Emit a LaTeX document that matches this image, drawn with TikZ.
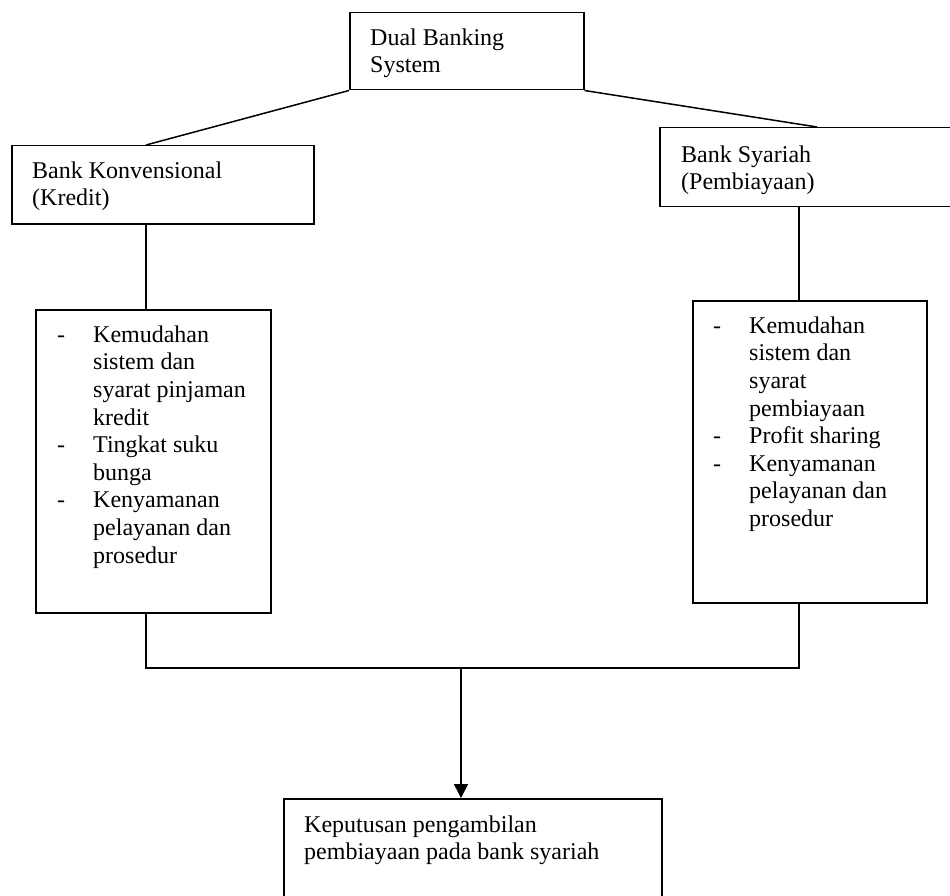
\documentclass[tikz,border=0pt]{standalone}
\usepackage{fontspec}
\setmainfont{Liberation Serif}
\usetikzlibrary{arrows.meta}
\tikzset{
  box/.style={draw, line width=1.5pt, rectangle, inner sep=0pt, anchor=north west},
  txt/.style={anchor=north west, inner sep=0pt, align=left, text width=#1,
    font=\fontsize{24}{27.6}\selectfont},
  txt/.default=400pt,
  conn/.style={line width=1.5pt},
}
\newcommand{\itm}{\makebox[36pt][l]{-}}
\newcommand{\ind}{\hspace*{36pt}}
\newcommand{\myspc}{\spaceskip=6pt\xspaceskip=6pt\relax\strut}
\begin{document}
\begin{tikzpicture}[x=1pt,y=-1pt]
\useasboundingbox (0,0) rectangle (950,896);
\clip (0,0) rectangle (950,896);
% boxes
\node[box, minimum width=234pt, minimum height=77pt] (top) at (349,12) {};
\node[box, minimum width=302pt, minimum height=78pt] (kon) at (11,145) {};
\node[box, minimum width=320pt, minimum height=79pt] (sya) at (659,127) {};
\node[box, minimum width=235pt, minimum height=303pt] (lkon) at (35,309) {};
\node[box, minimum width=234pt, minimum height=302pt] (lsya) at (692,300) {};
\node[box, minimum width=378pt, minimum height=120pt] (kep) at (283,798) {};
% texts
\node[txt] (ttop) at (370,{45-19.32}) {\myspc Dual Banking\\System};
\node[txt] (tkon) at (32,{178-19.32}) {\myspc Bank Konvensional\\(Kredit)};
\node[txt] (tsya) at (681,{162-19.32}) {\myspc Bank Syariah\\(Pembiayaan)};
\node[txt] (tlkon) at (57,{342-19.32}) {\myspc\itm Kemudahan\\\ind sistem dan\\\ind syarat pinjaman\\\ind kredit\\\itm Tingkat suku\\\ind bunga\\\itm Kenyamanan\\\ind pelayanan dan\\\ind prosedur};
\node[txt] (tlsya) at (713,{333-19.32}) {\myspc\itm Kemudahan\\\ind sistem dan\\\ind syarat\\\ind pembiayaan\\\itm Profit sharing\\\itm Kenyamanan\\\ind pelayanan dan\\\ind prosedur};
\node[txt] (tkep) at (304,{832-19.32}) {\myspc Keputusan pengambilan\\pembiayaan pada bank syariah};
% connectors
\coordinate (jl) at (146,668);
\coordinate (jr) at (799,668);
\coordinate (jm) at (461,668);
\draw[conn] (top.south west) -- (146,145);
\draw[conn] (top.south east) -- (817,127);
\draw[conn] (146,223) -- (146,309);
\draw[conn] (799,206) -- (799,300);
\draw[conn] (146,612) -- (jl) -- (jr) -- (799,602);
\draw[conn, -{Triangle[length=14pt,width=14pt]}] (jm) -- (461,798);
\end{tikzpicture}
\end{document}
